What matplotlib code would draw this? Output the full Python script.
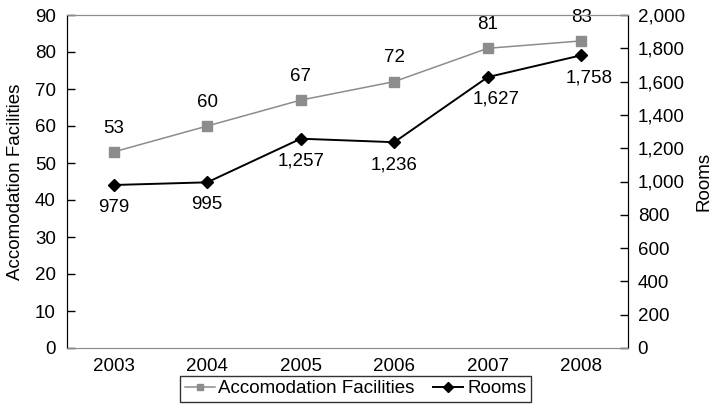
import matplotlib
matplotlib.use("Agg")
import matplotlib.pyplot as plt
from matplotlib.ticker import FuncFormatter

plt.rcParams['font.family'] = ['Liberation Sans', 'DejaVu Sans']

years = ["2003", "2004", "2005", "2006", "2007", "2008"]
facilities = [53, 60, 67, 72, 81, 83]
rooms = [979, 995, 1257, 1236, 1627, 1758]

FS = 13.5
GRAY = "#8c8c8c"

fig = plt.figure(figsize=(7.18, 4.04), dpi=100)
ax = fig.add_axes([67/718, 1 - 348/404, (628-67)/718, (348-15)/404])
ax2 = ax.twinx()

x = list(range(len(years)))
l1, = ax.plot(x, facilities, color=GRAY, marker="s", markersize=6.5, lw=1.1,
              label="Accomodation Facilities")
l2, = ax2.plot(x, rooms, color="black", marker="D", markersize=6.5, lw=1.4,
               label="Rooms")

ax.set_xlim(-0.5, len(years) - 0.5)
ax.set_ylim(0, 90)
ax.set_yticks(range(0, 91, 10))
ax2.set_ylim(0, 2000)
ax2.set_yticks(range(0, 2001, 200))
ax2.yaxis.set_major_formatter(FuncFormatter(lambda v, p: f"{int(v):,}"))
ax.set_xticks(x)
ax.set_xticklabels(years)

for a in (ax, ax2):
    a.tick_params(axis="y", direction="in", length=6, labelsize=FS, width=1)
    a.tick_params(axis="x", length=0, labelsize=FS, pad=7)
    a.spines["top"].set_color(GRAY)
    a.spines["bottom"].set_color(GRAY)
    a.spines["left"].set_color("black")
    a.spines["right"].set_color("black")
ax.tick_params(axis="y", pad=8)
ax2.tick_params(axis="y", pad=7)

ax.set_ylabel("Accomodation Facilities", fontsize=FS, labelpad=8)
ax2.set_ylabel("Rooms", fontsize=FS, labelpad=8)

for xi, v in zip(x, facilities):
    ax.annotate(f"{v}", (xi, v), xytext=(0, 11), textcoords="offset points",
                ha="center", va="bottom", fontsize=FS)
for xi, v in zip(x, rooms):
    dx = 6 if xi >= 4 else 0
    ax2.annotate(f"{v:,}", (xi, v), xytext=(dx, -10), textcoords="offset points",
                 ha="center", va="top", fontsize=FS)

leg = fig.legend(handles=[l1, l2], loc="lower center", bbox_to_anchor=(0.495, 0.0),
                 ncol=2, fontsize=FS, frameon=True, fancybox=False,
                 edgecolor="black", handlelength=1.6, handletextpad=0.2,
                 columnspacing=1.0, borderpad=0.25, borderaxespad=0.1,
                 markerscale=0.75)
leg.get_frame().set_linewidth(1.0)

fig.savefig("out.png", dpi=100)
